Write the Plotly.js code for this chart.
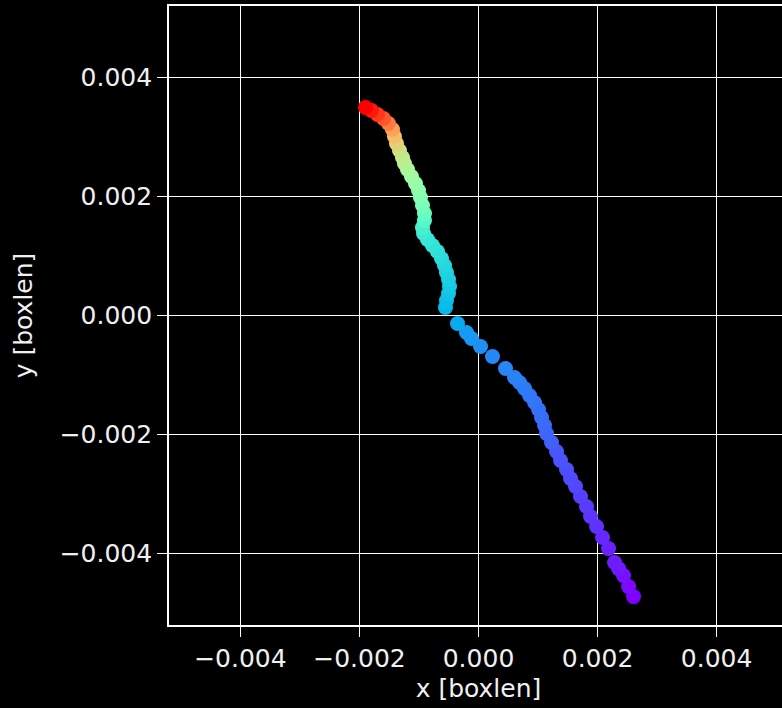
<!DOCTYPE html>
<html>
<head>
<meta charset="utf-8">
<script src="https://cdn.plot.ly/plotly-3.0.1.min.js"></script>
<style>
  html, body { margin: 0; padding: 0; background: #000; overflow: hidden; width: 782px; height: 708px; }
  #chart { width: 790px; height: 708px; }
</style>
</head>
<body>
<div id="chart"></div>
<script>
// Trajectory points, in time order (start = purple, end = red)
const xPos = [
  0.002605, 0.002521, 0.002437, 0.002353, 0.002286, 0.002185, 0.002084, 0.001983,
  0.001882, 0.001815, 0.001714, 0.001630, 0.001546, 0.001479, 0.001378, 0.001311,
  0.001227, 0.001143, 0.001109, 0.001059, 0.001008, 0.000941, 0.000857, 0.000773,
  0.000689, 0.000605, 0.000454, 0.000235, 0.000034, -0.000118, -0.000202, -0.000353,
  -0.000555, -0.000538, -0.000504, -0.000487, -0.000504, -0.000538, -0.000571, -0.000622,
  -0.000689, -0.000773, -0.000857, -0.000924, -0.000941, -0.000908, -0.000908, -0.000941,
  -0.000975, -0.001008, -0.001059, -0.001126, -0.001193, -0.001244, -0.001277, -0.001328,
  -0.001378, -0.001412, -0.001445, -0.001513, -0.001597, -0.001697, -0.001798, -0.001899
];
const yPos = [
  -0.004723, -0.004555, -0.004370, -0.004252, -0.004151, -0.003916, -0.003731, -0.003546,
  -0.003378, -0.003210, -0.003042, -0.002874, -0.002739, -0.002588, -0.002437, -0.002286,
  -0.002134, -0.001983, -0.001849, -0.001714, -0.001580, -0.001462, -0.001345, -0.001227,
  -0.001126, -0.001042, -0.000891, -0.000689, -0.000521, -0.000387, -0.000286, -0.000134,
  0.000134, 0.000252, 0.000370, 0.000487, 0.000605, 0.000723, 0.000840, 0.000958,
  0.001076, 0.001176, 0.001277, 0.001378, 0.001479, 0.001597, 0.001714, 0.001849,
  0.001983, 0.002101, 0.002218, 0.002336, 0.002454, 0.002555, 0.002655, 0.002773,
  0.002891, 0.003008, 0.003126, 0.003227, 0.003311, 0.003378, 0.003445, 0.003496
];
// Colour value (normalised time)
const tVal = [
  0.00, 0.01, 0.02, 0.03, 0.035, 0.04, 0.05, 0.06,
  0.067, 0.074, 0.081, 0.088, 0.095, 0.10, 0.105, 0.11,
  0.12, 0.13, 0.135, 0.14, 0.145, 0.15, 0.155, 0.16,
  0.165, 0.17, 0.175, 0.18, 0.19, 0.20, 0.21, 0.23,
  0.26, 0.27, 0.28, 0.29, 0.30, 0.31, 0.32, 0.33,
  0.34, 0.35, 0.36, 0.37, 0.39, 0.42, 0.45, 0.48,
  0.50, 0.52, 0.54, 0.56, 0.58, 0.60, 0.62, 0.65,
  0.69, 0.73, 0.78, 0.84, 0.89, 0.93, 0.97, 1.00
];
const tickVals = [-0.004, -0.002, 0, 0.002, 0.004];
const tickText = ['\u22120.004', '\u22120.002', '0.000', '0.002', '0.004'];

// matplotlib "rainbow" colormap samples
const rainbow = [
  [0.00, 'rgb(128,0,255)'], [0.05, 'rgb(102,40,254)'], [0.10, 'rgb(77,79,252)'],
  [0.15, 'rgb(51,116,248)'], [0.20, 'rgb(26,150,243)'], [0.25, 'rgb(0,180,236)'],
  [0.30, 'rgb(26,206,227)'], [0.35, 'rgb(51,227,217)'], [0.40, 'rgb(77,243,206)'],
  [0.45, 'rgb(102,252,194)'], [0.50, 'rgb(128,255,180)'], [0.55, 'rgb(153,252,166)'],
  [0.60, 'rgb(179,243,150)'], [0.65, 'rgb(204,227,133)'], [0.70, 'rgb(230,206,116)'],
  [0.75, 'rgb(255,180,98)'], [0.80, 'rgb(255,150,79)'], [0.85, 'rgb(255,116,59)'],
  [0.90, 'rgb(255,79,40)'], [0.95, 'rgb(255,40,20)'], [1.00, 'rgb(255,0,0)']
];

const font = { family: 'DejaVu Sans, sans-serif', size: 25, color: '#f0f0f0' };

const trace = {
  type: 'scatter',
  mode: 'markers',
  x: xPos,
  y: yPos,
  marker: {
    size: 15,
    color: tVal,
    colorscale: rainbow,
    cmin: 0,
    cmax: 1,
    line: { width: 0 },
    showscale: false
  },
  hoverinfo: 'skip'
};

const axisCommon = {
  tickvals: tickVals,
  ticktext: tickText,
  ticks: 'outside',
  ticklen: 10,
  tickwidth: 1.8,
  tickcolor: '#ffffff',
  showgrid: true,
  gridcolor: '#ffffff',
  gridwidth: 1.8,
  zeroline: false,
  showline: true,
  linecolor: '#ffffff',
  linewidth: 1.8,
  mirror: true,
  tickfont: font,
  automargin: false
};

const layout = {
  width: 790,
  height: 708,
  paper_bgcolor: '#000000',
  plot_bgcolor: '#000000',
  showlegend: false,
  margin: { l: 169, r: 2, t: 6, b: 83 },
  font: font,
  xaxis: Object.assign({}, axisCommon, {
    range: [-0.0052, 0.0052],
    title: { text: 'x [boxlen]', font: font, standoff: 8 }
  }),
  yaxis: Object.assign({}, axisCommon, {
    range: [-0.0052, 0.0052],
    title: { text: 'y [boxlen]', font: font, standoff: 20 }
  })
};

Plotly.newPlot('chart', [trace], layout, { displayModeBar: false, staticPlot: true });
</script>
</body>
</html>
